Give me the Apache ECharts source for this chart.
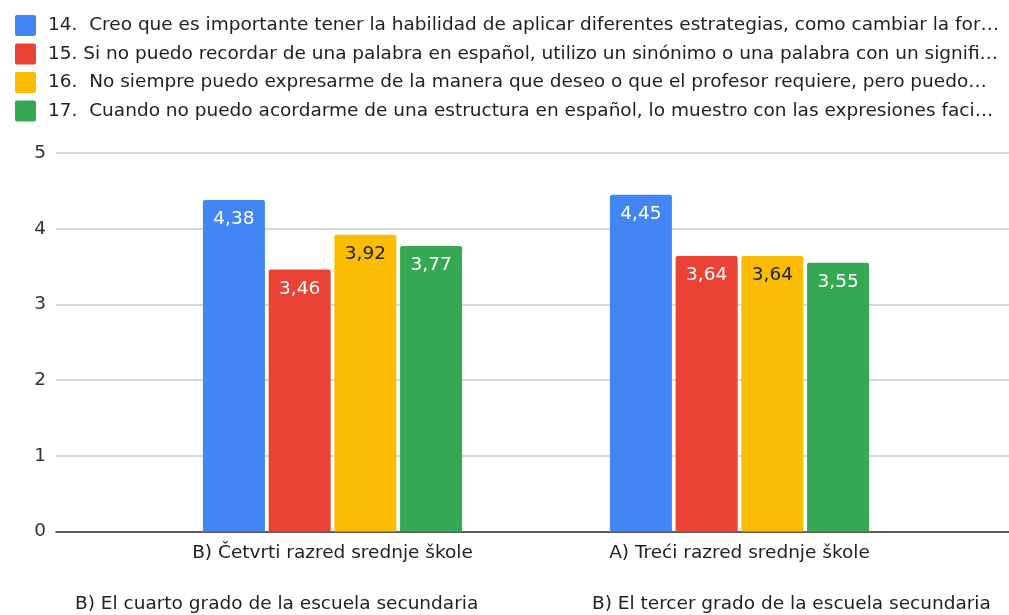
<!DOCTYPE html>
<html>
<head>
<meta charset="utf-8">
<script src="https://cdn.jsdelivr.net/npm/echarts@6/dist/echarts.min.js"></script>
<style>
  html, body { margin: 0; padding: 0; background: #fff; }
  #chart { width: 1009px; height: 615px; }
</style>
</head>
<body>
<div id="chart"></div>
<script>
// categories (x axis) and the second line under each one
const categories = ['B) Četvrti razred srednje škole', 'A) Treći razred srednje škole']
const subLabels = ['B) El cuarto grado de la escuela secundaria', 'B) El tercer grado de la escuela secundaria']

const seriesNames = [
  '14.  Creo que es importante tener la habilidad de aplicar diferentes estrategias, como cambiar la for…',
  '15. Si no puedo recordar de una palabra en español, utilizo un sinónimo o una palabra con un signifi…',
  '16.  No siempre puedo expresarme de la manera que deseo o que el profesor requiere, pero puedo…',
  '17.  Cuando no puedo acordarme de una estructura en español, lo muestro con las expresiones faci…'
]
const q14 = [4.38, 4.45]
const q15 = [3.46, 3.64]
const q16 = [3.92, 3.64]
const q17 = [3.77, 3.55]
const yTicks = [0, 1, 2, 3, 4, 5]

const colors = ['#4285F4', '#EA4335', '#FBBC04', '#34A853']
const labelColors = ['#fff', '#fff', '#222', '#fff']
const FONT = 'DejaVu Sans, sans-serif'
const FS = 18.5

const chart = echarts.init(document.getElementById('chart'))

function makeSeries(name, data, i) {
  return {
    name: name,
    type: 'bar',
    xAxisIndex: 1,
    yAxisIndex: 1,
    barWidth: 62,
    barGap: '6%',
    data: data,
    itemStyle: { color: colors[i], borderRadius: [2, 2, 0, 0] },
    label: {
      show: true,
      position: 'insideTop',
      distance: 10,
      color: labelColors[i],
      fontFamily: FONT,
      fontSize: FS,
      formatter: p => String(p.value).replace('.', ',')
    }
  }
}

chart.setOption({
  animation: false,
  color: colors,
  legend: {
    orient: 'vertical',
    left: 10,
    top: 10,
    itemWidth: 21,
    itemHeight: 21,
    itemGap: 7.5,
    icon: 'path://M2,0 H19 Q21,0 21,2 V19 Q21,21 19,21 H2 Q0,21 0,19 V2 Q0,0 2,0 Z',
    data: seriesNames,
    textStyle: {
      fontFamily: FONT,
      fontSize: FS,
      color: '#222',
      padding: [0, 0, 0, 7]
    }
  },
  grid: [
    // full width grid: gridlines, y labels, base line
    { left: 56, right: 0, top: 153, bottom: 83.5 },
    // bars sit in a narrower grid like the original
    { left: 129, right: 66, top: 153, bottom: 83.5 }
  ],
  xAxis: [
    {
      gridIndex: 0,
      type: 'value',
      min: 0,
      max: 1,
      axisLabel: { show: false },
      axisTick: { show: false },
      splitLine: { show: false },
      axisLine: { show: true, lineStyle: { color: '#333', width: 1.5 } }
    },
    {
      gridIndex: 1,
      type: 'category',
      data: categories,
      axisLine: { show: false },
      axisTick: { show: false },
      axisLabel: {
        margin: 12,
        fontFamily: FONT,
        fontSize: FS,
        color: '#222'
      }
    }
  ],
  yAxis: [
    {
      gridIndex: 0,
      type: 'value',
      min: yTicks[0],
      max: yTicks[yTicks.length - 1],
      interval: 1,
      axisLine: { show: false },
      axisTick: { show: false },
      axisLabel: { margin: 10, fontFamily: FONT, fontSize: FS, color: '#333' },
      splitLine: { lineStyle: { color: '#cccccc', width: 1.5 } }
    },
    {
      gridIndex: 1,
      type: 'value',
      min: yTicks[0],
      max: yTicks[yTicks.length - 1],
      interval: 1,
      show: false,
      splitLine: { show: false }
    }
  ],
  graphic: [
    {
      type: 'text',
      left: 75,
      top: 595,
      style: { text: subLabels[0], font: FS + 'px ' + FONT, fill: '#222' }
    },
    {
      type: 'text',
      left: 592,
      top: 595,
      style: { text: subLabels[1], font: FS + 'px ' + FONT, fill: '#222' }
    }
  ],
  series: [
    makeSeries(seriesNames[0], q14, 0),
    makeSeries(seriesNames[1], q15, 1),
    makeSeries(seriesNames[2], q16, 2),
    makeSeries(seriesNames[3], q17, 3)
  ]
})
</script>
</body>
</html>
